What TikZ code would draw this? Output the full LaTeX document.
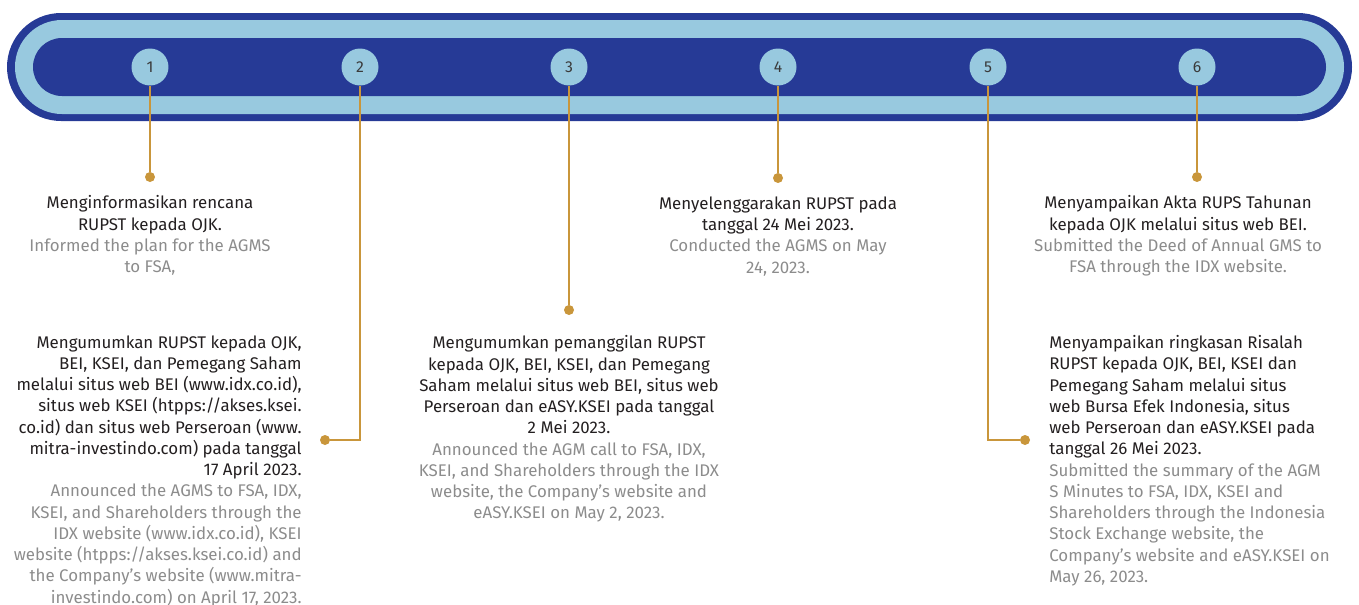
\documentclass[tikz,border=0pt]{standalone}
\usepackage{fontspec}
\setmainfont{Fira Sans}
\usetikzlibrary{positioning}
\definecolor{bandblue}{HTML}{263A96}
\definecolor{bandlight}{HTML}{98C9DF}
\definecolor{leadgold}{HTML}{C9963B}
\definecolor{inkblack}{HTML}{231F20}
\definecolor{engrey}{HTML}{8C8C8C}
\definecolor{numgrey}{HTML}{3A3A3A}
\newcommand{\engline}[1]{\textcolor{engrey}{#1}}
\tikzset{
  stepnum/.style={circle, fill=bandlight, minimum size=0.74cm, inner sep=0pt, text=numgrey, font=\fontsize{9}{10}\selectfont},
  stepdot/.style={circle, fill=leadgold, minimum size=0.2cm, inner sep=0pt},
  lead/.style={draw=leadgold, line width=1.3pt},
  steptext/.style={inner sep=0pt, text=inkblack, font=\fontsize{9.6}{12.1}\selectfont},
}

\begin{document}
\begin{tikzpicture}[x=0.02cm, y=-0.02cm]
  \useasboundingbox (0,0) rectangle (1359,605);
  % the band
  \fill[bandblue, rounded corners=1.08cm] (7,13) rectangle (1352,121);
  \fill[bandlight, rounded corners=0.94cm] (15,20) rectangle (1344,114);
  \fill[bandblue, rounded corners=0.58cm] (33,38) rectangle (1326,96);

  % steps
  \node (n1) [stepnum] at (150,67) {1};
  \node (n2) [stepnum] at (360,67) {2};
  \node (n3) [stepnum] at (569,67) {3};
  \node (n4) [stepnum] at (778,67) {4};
  \node (n5) [stepnum] at (988,67) {5};
  \node (n6) [stepnum] at (1197,67) {6};

  \node (d1) [stepdot] at (150,177) {};
  \node (d2) [stepdot] at (325,440) {};
  \node (d3) [stepdot] at (569,310) {};
  \node (d4) [stepdot] at (778,178) {};
  \node (d5) [stepdot] at (1025,440) {};
  \node (d6) [stepdot] at (1197,177) {};

  \draw[lead] (n1) -- (d1);
  \draw[lead] (n2) |- (d2);
  \draw[lead] (n3) -- (d3);
  \draw[lead] (n4) -- (d4);
  \draw[lead] (n5) |- (d5);
  \draw[lead] (n6) -- (d6);

  % texts
  \node (t1) [steptext, align=center, below=0.26cm of d1] {Menginformasikan rencana\\RUPST kepada OJK.\\
    \engline{Informed the plan for the AGMS}\\\engline{to FSA,}};
  \node (t2) [steptext, align=right, anchor=north east] at (302,335) {Mengumumkan RUPST kepada OJK,\\
    BEI, KSEI, dan Pemegang Saham\\melalui situs web BEI (www.idx.co.id),\\situs web KSEI (htpps://akses.ksei.\\
    co.id) dan situs web Perseroan (www.\\mitra-investindo.com) pada tanggal\\17 April 2023.\\
    \engline{Announced the AGMS to FSA, IDX,}\\\engline{KSEI, and Shareholders through the}\\
    \engline{IDX website (www.idx.co.id), KSEI}\\\engline{website (htpps://akses.ksei.co.id) and}\\
    \engline{the Company’s website (www.mitra-}\\\engline{investindo.com) on April 17, 2023.}};
  \node (t3) [steptext, align=center, below=0.4cm of d3] {Mengumumkan pemanggilan RUPST\\kepada OJK, BEI, KSEI, dan Pemegang\\
    Saham melalui situs web BEI, situs web\\Perseroan dan eASY.KSEI pada tanggal\\2 Mei 2023.\\
    \engline{Announced the AGM call to FSA, IDX,}\\\engline{KSEI, and Shareholders through the IDX}\\
    \engline{website, the Company’s website and}\\\engline{eASY.KSEI on May 2, 2023.}};
  \node (t4) [steptext, align=center, below=0.26cm of d4] {Menyelenggarakan RUPST pada\\tanggal 24 Mei 2023.\\
    \engline{Conducted the AGMS on May}\\\engline{24, 2023.}};
  \node (t5) [steptext, align=left, anchor=north west] at (1049,335) {Menyampaikan ringkasan Risalah\\
    RUPST kepada OJK, BEI, KSEI dan\\Pemegang Saham melalui situs\\web Bursa Efek Indonesia, situs\\
    web Perseroan dan eASY.KSEI pada\\tanggal 26 Mei 2023.\\
    \engline{Submitted the summary of the AGM}\\\engline{S Minutes to FSA, IDX, KSEI and}\\
    \engline{Shareholders through the Indonesia}\\\engline{Stock Exchange website, the}\\
    \engline{Company’s website and eASY.KSEI on}\\\engline{May 26, 2023.}};
  \node (t6) [steptext, align=center, below=0.26cm of d6, xshift=-0.38cm] {Menyampaikan Akta RUPS Tahunan\\
    kepada OJK melalui situs web BEI.\\
    \engline{Submitted the Deed of Annual GMS to}\\\engline{FSA through the IDX website.}};
\end{tikzpicture}
\end{document}
